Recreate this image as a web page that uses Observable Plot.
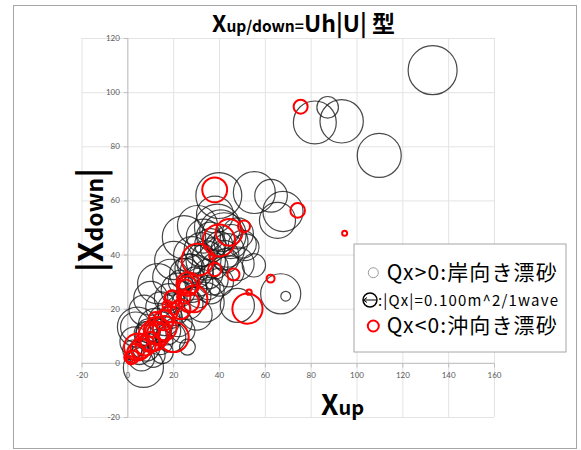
<!DOCTYPE html>
<html><head><meta charset="utf-8">
<script src="https://cdn.jsdelivr.net/npm/d3@7"></script>
<script src="https://cdn.jsdelivr.net/npm/@observablehq/plot@0.6"></script>
<style>
body{margin:0;background:#fff;}
#wrap{position:relative;width:581px;height:450px;}
#wrap svg{position:absolute;left:0;top:0;}
#frame{position:absolute;left:13px;top:5px;width:564px;height:444px;border:1.5px solid #a6a6a6;box-sizing:border-box;pointer-events:none}
</style></head><body><div id="wrap"></div>
<script>
// Qx>0 (onshore) bubbles: Xup, |Xdown|, |Qx|
const posX = [133,87.2,81.6,93.3,109.7,39.7,55.2,62.5,67.7,65.3,39.1,40.5,42,24.5,30.4,47.8,55,51.4,43.5,36.2,66.7,68.9,47.8,33.3,13,18.7,4.2,14.4,7.1,26,18.7,6.8,3.4,
  28,32,34,36,30,35,38,25,22,28,31,26,20,16,12,10,8,14,5,22,18,40,44,42,45,48,50,38,33,20,10,24,30,35,11,3,15,6,9,2,17,27,37,
  27,33,37,40,29,23,19,13,8,31,43,36];
const posY = [108.3,94.6,89,89.4,76.8,62,63.1,61.9,56.1,52.8,50.3,49,47.5,46.6,50.9,36.8,36.2,42.9,41.7,26.9,25.7,24.8,21.4,22.6,29.4,31.8,13.4,20.8,19.6,6,9.7,-1.5,13.4,
  40,42,38,44,34,33,36,33,27,28,30,22,20,16,14,10,6,8,4,15,24,30,34,40,45,48,44,55,47,38,24,12,18,28,3,8,4,2,12,5,12,35,31,
  36,40,42,44,32,30,17,12,11,25,38,47];
const posQ = [1.24,0.24,0.95,0.97,1.0,1.09,0.91,0.55,0.83,0.67,1.09,0.9,1.0,0.97,0.83,0.58,0.28,0.37,0.58,0.37,0.83,0.05,0.6,0.83,0.83,0.67,0.83,0.47,0.47,0.13,0.47,0.83,0.47,
  0.7,0.6,0.8,0.5,0.55,0.45,0.35,0.5,0.6,0.45,0.4,0.5,0.55,0.5,0.6,0.5,0.4,0.35,0.3,0.4,0.45,0.4,0.5,0.45,0.6,0.5,0.4,0.7,0.6,0.75,0.6,0.3,0.5,0.3,0.3,0.45,0.25,0.35,0.3,0.2,0.4,0.45,0.5,
  0.3,0.25,0.3,0.35,0.2,0.3,0.25,0.3,0.3,0.3,0.3,0.4];
// Qx<0 (offshore) bubbles
const negX = [75.4,37.9,74.1,94.6,39.8,50.7,44.2,30.5,37.9,46.1,36.7,26.3,25.3,52.9,62.3,52.2,19.5,26.7,28.9,17.3,3.4,1.9,5.5,7.7,9.9,13.5,20,12.8,15.7,12.1,17.9,20,19.3,24.4,6.2,10.6,11,4.2,0.6,1.3,26,23,16];
const negY = [94.8,64.1,56.5,48.1,45.4,50.6,48.4,38.3,34.7,32.8,39.6,29.4,28.5,26.3,31.3,20.2,23.8,22.6,23.8,21.4,4.2,2.3,5.4,6.6,7.9,10.9,9.7,12.2,15.9,16.5,18.3,20.2,24.5,24.5,8.5,12.2,10,6,2.3,1.1,28.6,20,13];
const negQ = [0.101,0.32,0.11,0.013,0.53,0.074,0.37,0.53,0.093,0.074,0.015,0.28,0.093,0.015,0.033,0.47,0.142,0.207,0.366,0.052,0.142,0.093,0.207,0.207,0.207,0.283,0.465,0.366,0.207,0.093,0.142,0.074,0.093,0.093,0.093,0.093,0.45,0.37,0.052,0.033,0.2,0.2,0.3];

const xTicks = [-20,0,20,40,60,80,100,120,140,160];
const yTicks = [-20,0,20,40,60,80,100,120];
const legendLabels = ["Qx>0:岸向き漂砂", ":|Qx|=0.100m^2/1wave", "Qx<0:沖向き漂砂"];
const legendRefQ = 0.1;

const pos = posX.map((x,i)=>({x, y: posY[i], q: posQ[i]}));
const neg = negX.map((x,i)=>({x, y: negY[i], q: negQ[i]}));

const plot = Plot.plot({
  width: 581, height: 450,
  marginLeft: 81.5, marginRight: 87, marginTop: 38, marginBottom: 33,
  x: {domain: [-20,160], axis: null},
  y: {domain: [-20,120], axis: null},
  r: {type: "sqrt", domain: [0,1], range: [0,22]},
  style: {background: "transparent", fontFamily: "Lato, sans-serif", overflow: "visible"},
  marks: [
    Plot.ruleX(xTicks, {stroke: "#e3e3e3", strokeWidth: 1}),
    Plot.ruleY(yTicks, {stroke: "#e3e3e3", strokeWidth: 1}),
    Plot.ruleX([0], {stroke: "#bfbfbf"}),
    Plot.ruleY([0], {stroke: "#bfbfbf"}),
    Plot.link(xTicks, {x1: d=>d, x2: d=>d, y1: 0, y2: -1.5, stroke: "#bfbfbf"}),
    Plot.link(yTicks, {x1: 0, x2: -1.7, y1: d=>d, y2: d=>d, stroke: "#bfbfbf"}),
    Plot.text(xTicks, {x: d=>d, y: 0, dy: 12, text: d=>String(d), fontSize: 8, fill: "#595959"}),
    Plot.text(yTicks, {x: 0, y: d=>d, dx: -8, textAnchor: "end", text: d=>String(d), fontSize: 8, fill: "#595959"}),
    Plot.dot(pos, {x: "x", y: "y", r: "q", stroke: "#1a1a1a", strokeOpacity: 0.8, strokeWidth: 1.2}),
    Plot.dot(neg, {x: "x", y: "y", r: "q", stroke: "#ff0000", strokeWidth: 2})
  ]
});

const wrap = document.getElementById("wrap");
wrap.appendChild(plot);
const fr = document.createElement("div"); fr.id = "frame"; wrap.appendChild(fr);

const svg = d3.select(plot);
const jp = "'Noto Sans CJK JP', 'Noto Sans', sans-serif";

// title
const t = svg.append("text").attr("x", 212).attr("y", 32).attr("text-anchor", "start").attr("font-family", jp).attr("font-weight", 700).attr("fill", "#000");
t.append("tspan").attr("font-size", 23).text("X");
t.append("tspan").attr("font-size", 15.5).text("up/down=");
t.append("tspan").attr("font-size", 23).text("Uh|U| 型");

// y title
const yt = svg.append("text").attr("transform", "translate(103,220) rotate(-90)").attr("text-anchor", "middle")
  .attr("font-family", jp).attr("font-weight", 700).attr("fill", "#000");
yt.append("tspan").attr("font-size", 33).text("|X");
yt.append("tspan").attr("font-size", 23).text("down");
yt.append("tspan").attr("font-size", 33).text("|");

// x title
const xt = svg.append("text").attr("x", 321).attr("y", 415).attr("text-anchor", "start").attr("font-family", jp).attr("font-weight", 700).attr("fill", "#000");
xt.append("tspan").attr("font-size", 28).text("X");
xt.append("tspan").attr("font-size", 20).text("up");

// legend
const lg = svg.append("g");
lg.append("rect").attr("x", 354).attr("y", 244).attr("width", 212).attr("height", 108).attr("fill", "#fff").attr("stroke", "#a6a6a6").attr("stroke-width", 1);
lg.append("circle").attr("cx", 373.3).attr("cy", 272.7).attr("r", 5).attr("fill", "none").attr("stroke", "#999").attr("stroke-width", 1);
const rr = 22 * Math.sqrt(legendRefQ);
lg.append("circle").attr("cx", 370).attr("cy", 300).attr("r", rr).attr("fill", "none").attr("stroke", "#000").attr("stroke-width", 1.5);
lg.append("line").attr("x1", 363.5).attr("x2", 376.5).attr("y1", 300).attr("y2", 300).attr("stroke", "#000").attr("stroke-width", 1);
lg.append("path").attr("d", "M363.5,300 l3.5,-2.5 M363.5,300 l3.5,2.5").attr("stroke", "#000").attr("stroke-width", 1).attr("fill", "none");
lg.append("circle").attr("cx", 373.3).attr("cy", 326).attr("r", 5.5).attr("fill", "none").attr("stroke", "#ff0000").attr("stroke-width", 2);
const lt = [[386.7, 280, 21, 170], [378, 305.5, 15, 180], [386.7, 332.5, 21, 170]];
legendLabels.forEach((s, i) => {
  lg.append("text").attr("x", lt[i][0]).attr("y", lt[i][1]).attr("font-size", lt[i][2]).attr("text-anchor", "start")
    .attr("font-family", jp).attr("fill", "#000").attr("textLength", lt[i][3]).attr("lengthAdjust", "spacing").text(s);
});
</script>
</body></html>
